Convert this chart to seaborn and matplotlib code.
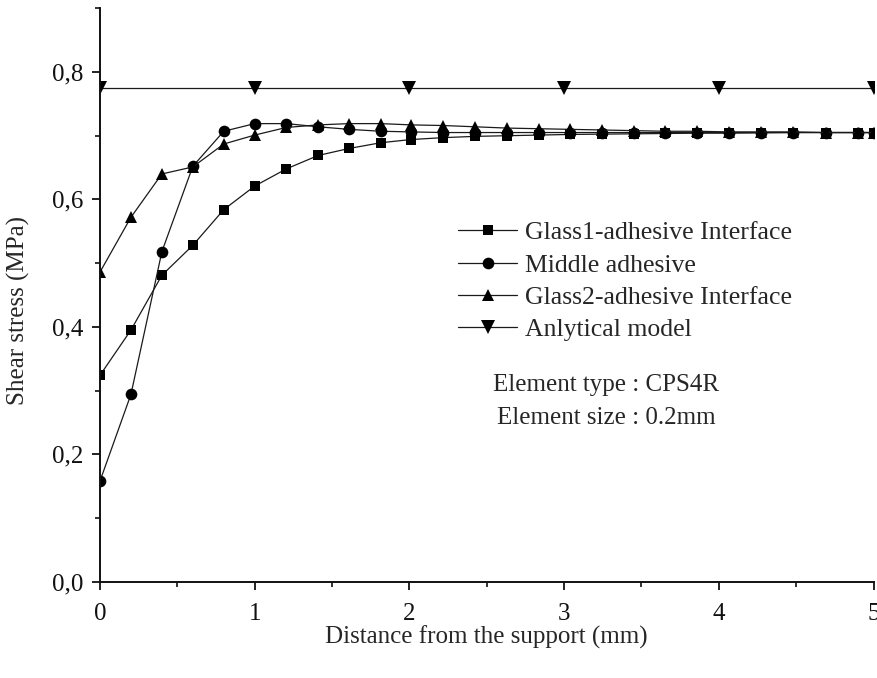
import numpy as np
import pandas as pd
import matplotlib
matplotlib.use("Agg")
import matplotlib.pyplot as plt
from matplotlib.ticker import MultipleLocator, FuncFormatter
import seaborn as sns

# Node positions along the overlap (mm)
distance = [0.0, 0.2, 0.4, 0.6, 0.8, 1.0, 1.205, 1.41, 1.61, 1.815, 2.01,
            2.22, 2.425, 2.63, 2.835, 3.04, 3.245, 3.45, 3.655, 3.86, 4.065,
            4.27, 4.48, 4.69, 4.9, 5.0]

# Shear stress (MPa) from the FE model
glass1_interface = [0.324, 0.395, 0.481, 0.528, 0.584, 0.621, 0.648, 0.669,
                    0.680, 0.689, 0.694, 0.697, 0.699, 0.700, 0.701, 0.702,
                    0.7025, 0.703, 0.7035, 0.704, 0.704, 0.7045, 0.705, 0.705,
                    0.705, 0.705]
middle_adhesive = [0.158, 0.294, 0.518, 0.652, 0.707, 0.719, 0.719, 0.714,
                   0.710, 0.707, 0.706, 0.705, 0.705, 0.705, 0.705, 0.705,
                   0.705, 0.705, 0.705, 0.705, 0.705, 0.705, 0.705, 0.705,
                   0.705, 0.705]
glass2_interface = [0.486, 0.572, 0.640, 0.651, 0.687, 0.701, 0.713, 0.717,
                    0.719, 0.719, 0.717, 0.716, 0.714, 0.712, 0.711, 0.710,
                    0.709, 0.708, 0.707, 0.707, 0.706, 0.706, 0.706, 0.705,
                    0.705, 0.705]

# Closed-form solution
analytical_x = [0, 1, 2, 3, 4, 5]
analytical_y = [0.775, 0.775, 0.775, 0.775, 0.775, 0.775]

labels = ["Glass1-adhesive Interface", "Middle adhesive",
          "Glass2-adhesive Interface", "Anlytical model"]

sns.set_style("ticks")
plt.rcParams["font.family"] = ["Liberation Serif", "DejaVu Serif"]

fig = plt.figure(figsize=(8.77, 6.78), dpi=100)
ax = fig.add_axes([100 / 877, 1 - 581.7 / 678, 773.5 / 877, 573.4 / 678])

series = [
    (distance, glass1_interface, "s", 7.2, labels[0]),
    (distance, middle_adhesive, "o", 8.4, labels[1]),
    (distance, glass2_interface, "^", 9.0, labels[2]),
    (analytical_x, analytical_y, "v", 9.5, labels[3]),
]
for xs, ys, mk, ms, lab in series:
    df = pd.DataFrame({"x": xs, "y": ys})
    sns.lineplot(data=df, x="x", y="y", ax=ax, color="#1a1a1a", lw=0.9,
                 marker=mk, markersize=ms, markeredgewidth=0,
                 markerfacecolor="black", label=lab, sort=False)

ax.set_xlim(0, 5)
ax.set_ylim(0, 0.9)
ax.xaxis.set_major_locator(MultipleLocator(1))
ax.xaxis.set_minor_locator(MultipleLocator(0.5))
ax.yaxis.set_major_locator(MultipleLocator(0.2))
ax.yaxis.set_minor_locator(MultipleLocator(0.1))
ax.yaxis.set_major_formatter(FuncFormatter(lambda v, p: f"{v:.1f}".replace(".", ",")))
ax.xaxis.set_major_formatter(FuncFormatter(lambda v, p: f"{v:.0f}"))

for side in ("top", "right"):
    ax.spines[side].set_visible(False)
for side in ("left", "bottom"):
    ax.spines[side].set_linewidth(1.4)
    ax.spines[side].set_color("#111111")

ax.tick_params(which="major", direction="out", length=6, width=1.3,
               colors="#111111", labelsize=18)
ax.tick_params(which="minor", direction="out", length=3.5, width=1.2,
               colors="#111111")
ax.tick_params(axis="y", which="major", pad=6)
ax.tick_params(axis="x", which="major", pad=9)

ax.set_xlabel("Distance from the support (mm)", fontsize=18, va="center")
ax.set_ylabel("Shear stress (MPa)", fontsize=18, va="center")
ax.xaxis.set_label_coords(0.5, (581.7 - 637) / 573.4)
ax.yaxis.set_label_coords((18 - 100) / 773.5, (581.7 - 311) / 573.4)

leg = ax.legend(loc="center left", bbox_to_anchor=(0.463, 0.524),
                frameon=False, fontsize=18.5, handlelength=2.3,
                handletextpad=0.3, labelspacing=0.36, borderpad=0,
                borderaxespad=0)

ax.text(0.654, (581.7 - 385) / 573.4, "Element type : CPS4R",
        transform=ax.transAxes, ha="center", va="center", fontsize=18)
ax.text(0.654, (581.7 - 418) / 573.4, "Element size : 0.2mm",
        transform=ax.transAxes, ha="center", va="center", fontsize=18)

fig.savefig("out.png", dpi=100)
